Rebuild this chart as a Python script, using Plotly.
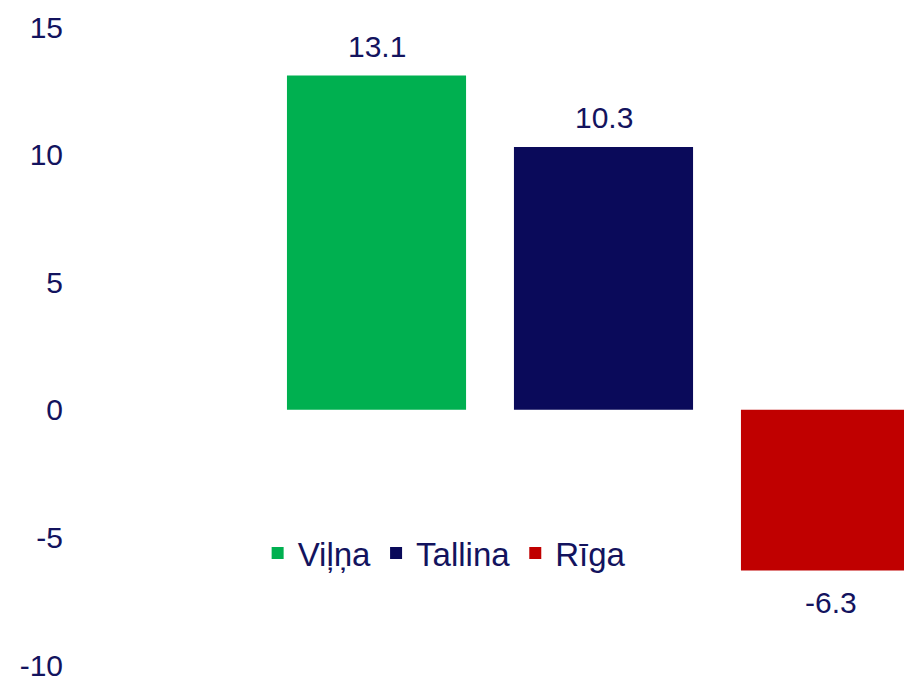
import plotly.graph_objects as go

cities = ["Viļņa", "Tallina", "Rīga"]
values = [13.1, 10.3, -6.3]
colors = ["#00B050", "#0A0A5A", "#C00000"]
y_ticks = [-10, -5, 0, 5, 10, 15]
y_tick_labels = ["-10", "-5", "0", "5", "10", "15"]

TEXT = "#13135E"
FONT = "Liberation Sans, Arial, sans-serif"

fig = go.Figure()
for c, v, col in zip(cities, values, colors):
    fig.add_trace(go.Bar(x=[c], y=[v], name=c, marker=dict(color=col, line=dict(width=0)),
                         width=0.789, hoverinfo="skip"))

for c, v in zip(cities, values):
    fig.add_annotation(x=c, y=v, text=f"{v:.1f}", showarrow=False,
                       yanchor="middle", yshift=29 if v >= 0 else -32,
                       font=dict(size=30, color=TEXT, family=FONT))

fig.update_layout(
    width=904, height=677,
    margin=dict(l=64, r=0, t=27, b=12, autoexpand=False),
    plot_bgcolor="white", paper_bgcolor="white",
    barmode="overlay",
    font=dict(family=FONT, size=30, color=TEXT),
    showlegend=True,
    legend=dict(orientation="h", xref="container", yref="container",
                x=0.285, y=1 - 553 / 677, xanchor="left", yanchor="middle",
                font=dict(size=33, color=TEXT, family=FONT),
                bgcolor="rgba(0,0,0,0)", itemclick=False),
    xaxis=dict(range=[-1.3767, 2.3238], showticklabels=False, showgrid=False,
               zeroline=False, showline=False, ticks="", automargin=False),
    yaxis=dict(range=[-10, 15], tickvals=y_ticks, ticktext=y_tick_labels,
               showgrid=False, zeroline=False, automargin=False, ticklabeloverflow="allow",
               showline=False, ticks="", tickfont=dict(size=30, color=TEXT, family=FONT)),
)

fig.write_html("out.html", config={"displayModeBar": False},
               post_script="document.body.style.margin='0';document.body.style.overflow='hidden';")
